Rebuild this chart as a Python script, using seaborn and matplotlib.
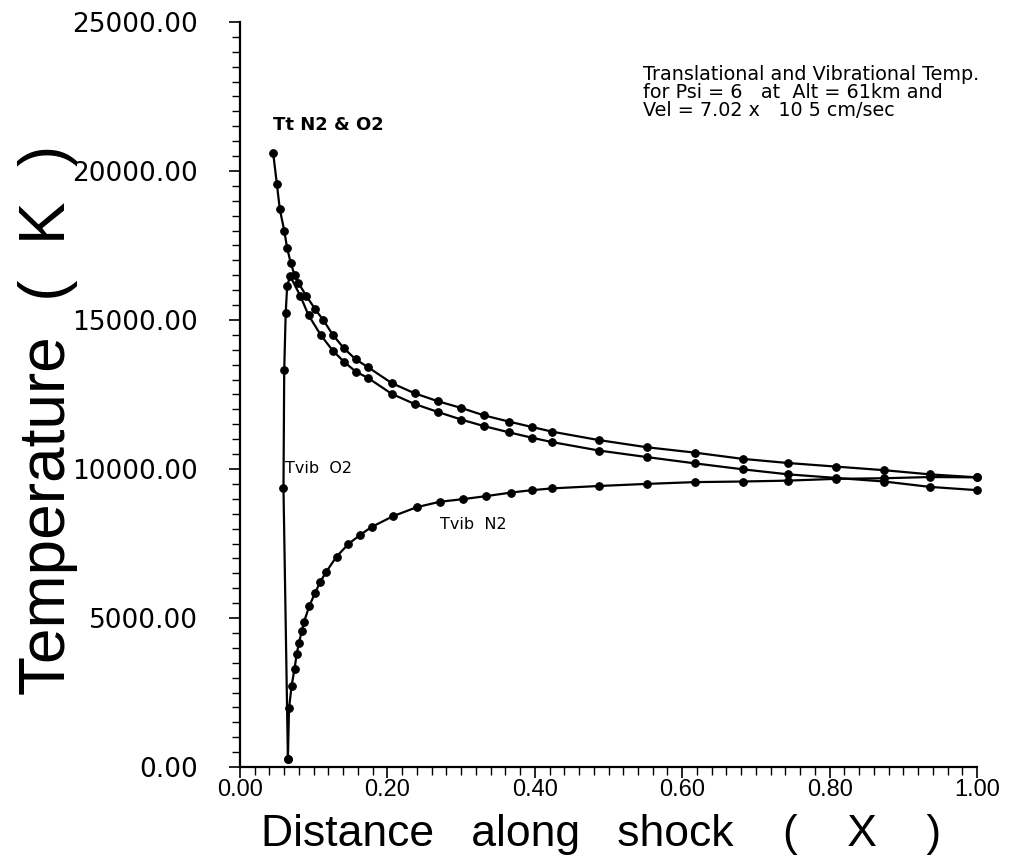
import matplotlib
matplotlib.use("Agg")
import matplotlib.pyplot as plt
import seaborn as sns
import pandas as pd
from matplotlib.ticker import MultipleLocator, FormatStrFormatter

# ---- data ----
tt_x = [0.045, 0.050, 0.054, 0.060, 0.064, 0.069, 0.074, 0.079, 0.090, 0.102, 0.113,
        0.126, 0.141, 0.157, 0.174, 0.206, 0.237, 0.269, 0.300, 0.331, 0.365, 0.396,
        0.424, 0.487, 0.552, 0.617, 0.682, 0.744, 0.809, 0.874, 0.936, 1.000]
tt_T = [20600, 19570, 18720, 18000, 17410, 16900, 16510, 16250, 15810, 15360, 15000,
        14500, 14050, 13680, 13410, 12880, 12540, 12270, 12050, 11800, 11590, 11410,
        11250, 10970, 10730, 10550, 10340, 10200, 10080, 9960, 9820, 9720]

o2_x = [0.065, 0.059, 0.060, 0.062, 0.064, 0.068, 0.082, 0.093, 0.110, 0.126, 0.141,
        0.157, 0.174, 0.206, 0.237, 0.269, 0.300, 0.331, 0.365, 0.396, 0.424, 0.487,
        0.552, 0.617, 0.682, 0.744, 0.809, 0.874, 0.936, 1.000]
o2_T = [270, 9350, 13320, 15230, 16140, 16480, 15800, 15160, 14480, 13970, 13600,
        13270, 13050, 12520, 12180, 11910, 11660, 11440, 11230, 11050, 10900, 10620,
        10400, 10190, 9990, 9820, 9700, 9580, 9400, 9290]

n2_x = [0.065, 0.0665, 0.070, 0.074, 0.077, 0.080, 0.084, 0.087, 0.094, 0.102, 0.109,
        0.117, 0.131, 0.147, 0.163, 0.179, 0.208, 0.240, 0.271, 0.303, 0.334, 0.368,
        0.396, 0.424, 0.487, 0.552, 0.617, 0.682, 0.744, 0.809, 0.874, 0.936, 1.000]
n2_T = [270, 1970, 2720, 3300, 3790, 4170, 4570, 4880, 5400, 5850, 6220,
        6550, 7060, 7480, 7790, 8060, 8420, 8720, 8900, 8990, 9090, 9210,
        9290, 9350, 9430, 9500, 9560, 9580, 9610, 9670, 9690, 9730, 9720]

series_labels = ["Tt N2 & O2", "Tvib  O2", "Tvib  N2"]
title_lines = ["Translational and Vibrational Temp.",
               "for Psi = 6   at  Alt = 61km and",
               "Vel = 7.02 x   10 5 cm/sec"]
x_ticks = [0.0, 0.2, 0.4, 0.6, 0.8, 1.0]
y_ticks = [0, 5000, 10000, 15000, 20000, 25000]

sns.set_theme(style="ticks")
plt.rcParams['font.family'] = ['DejaVu Sans']
plt.rcParams['text.color'] = 'black'
plt.rcParams['xtick.color'] = 'black'
plt.rcParams['ytick.color'] = 'black'
plt.rcParams['axes.labelcolor'] = 'black'

fig = plt.figure(figsize=(10.19, 8.56), dpi=100)
ax = fig.add_axes([240 / 1019, 89 / 856, 737 / 1019, 745 / 856])

for xs, ys in [(tt_x, tt_T), (o2_x, o2_T), (n2_x, n2_T)]:
    df = pd.DataFrame({"x": xs, "T": ys})
    sns.lineplot(data=df, x="x", y="T", sort=False, estimator=None, ax=ax,
                 color="black", linewidth=1.6, marker="o", markersize=5.5,
                 markeredgecolor="black", markerfacecolor="black", clip_on=False)

ax.set_xlim(0, 1.0)
ax.set_ylim(0, 25000)
ax.set_xticks(x_ticks)
ax.set_yticks(y_ticks)
ax.xaxis.set_minor_locator(MultipleLocator(0.02))
ax.yaxis.set_minor_locator(MultipleLocator(500))
ax.xaxis.set_major_formatter(FormatStrFormatter("%.2f"))
ax.yaxis.set_major_formatter(FormatStrFormatter("%.2f"))
for s in ["top", "right"]:
    ax.spines[s].set_visible(False)
for s in ["left", "bottom"]:
    ax.spines[s].set_linewidth(1.6)
    ax.spines[s].set_color("black")
ax.tick_params(which="major", direction="out", length=8, width=1.2, color="black")
ax.tick_params(which="minor", direction="out", length=5.5, width=1.0, color="black")
ax.tick_params(axis="y", which="major", pad=22, labelsize=19, labelcolor="black")
ax.tick_params(axis="x", which="major", pad=0.5, labelsize=17, labelcolor="black",
               labelfontfamily="Liberation Sans")
ax.set_xlabel("")
ax.set_ylabel("")

ax.text(0.045, 21550, series_labels[0], fontsize=13, fontweight="bold",
        ha="left", va="center")
ax.text(0.061, 10000, series_labels[1], fontsize=11.5, ha="left", va="center")
ax.text(0.271, 8150, series_labels[2], fontsize=11.5, ha="left", va="center")

fig.text(643 / 1019, 1 - 65 / 856, "\n".join(title_lines), fontsize=13.8,
         ha="left", va="top", linespacing=0.93)

fig.text(601 / 1019, 1 / 856, "Distance   along   shock    (    X    )",
         fontsize=32, ha="center", va="bottom",
         family=["Liberation Sans", "DejaVu Sans"])
fig.text(48 / 1019, 1 - 420 / 856, "Temperature  (  K  )",
         fontsize=46, ha="center", va="center", rotation=90,
         family=["Liberation Sans", "DejaVu Sans"])

fig.savefig("out.png", dpi=100)
